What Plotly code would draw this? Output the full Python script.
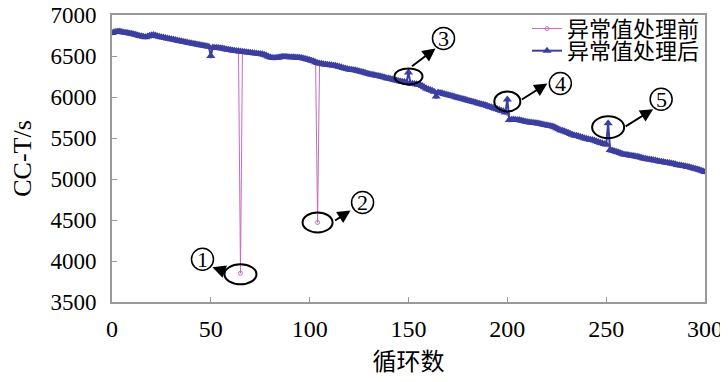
import plotly.graph_objects as go

cycles = list(range(0, 301))

after = [
    6780, 6790, 6795, 6800, 6798, 6792, 6788, 6785, 6780, 6775,
    6770, 6765, 6758, 6752, 6745, 6740, 6735, 6730, 6738, 6748,
    6752, 6755, 6750, 6742, 6735, 6730, 6725, 6720, 6714, 6710,
    6705, 6700, 6695, 6690, 6684, 6680, 6675, 6670, 6665, 6660,
    6655, 6650, 6645, 6640, 6636, 6632, 6628, 6622, 6618, 6612,
    6500, 6605, 6602, 6600, 6598, 6595, 6590, 6585, 6580, 6576,
    6572, 6568, 6565, 6560, 6557, 6555, 6552, 6550, 6546, 6542,
    6540, 6537, 6535, 6532, 6528, 6524, 6520, 6515, 6505, 6495,
    6485, 6478, 6475, 6478, 6482, 6486, 6490, 6492, 6490, 6488,
    6486, 6485, 6484, 6483, 6482, 6480, 6476, 6470, 6463, 6456,
    6450, 6442, 6435, 6425, 6415, 6410, 6405, 6400, 6396, 6392,
    6390, 6388, 6385, 6380, 6374, 6368, 6362, 6355, 6348, 6340,
    6336, 6333, 6330, 6325, 6320, 6314, 6308, 6302, 6295, 6288,
    6280, 6275, 6270, 6265, 6260, 6255, 6250, 6244, 6238, 6230,
    6225, 6220, 6214, 6208, 6200, 6195, 6190, 6186, 6182, 6176,
    6300, 6166, 6162, 6158, 6154, 6150, 6145, 6135, 6120, 6105,
    6095, 6085, 6075, 6065, 6005, 6055, 6050, 6045, 6038, 6030,
    6024, 6018, 6012, 6005, 5998, 5992, 5985, 5978, 5972, 5965,
    5958, 5952, 5946, 5940, 5932, 5925, 5918, 5912, 5905, 5898,
    5890, 5882, 5875, 5865, 5858, 5850, 5842, 5833, 5825, 5812,
    5970, 5720, 5722, 5725, 5722, 5720, 5718, 5712, 5706, 5700,
    5696, 5692, 5688, 5685, 5682, 5680, 5676, 5670, 5665, 5660,
    5655, 5650, 5645, 5640, 5630, 5620, 5608, 5596, 5588, 5580,
    5570, 5560, 5550, 5540, 5532, 5526, 5520, 5512, 5505, 5498,
    5492, 5486, 5480, 5475, 5468, 5460, 5450, 5442, 5435, 5428,
    5420, 5680, 5355, 5348, 5340, 5332, 5325, 5316, 5308, 5300,
    5295, 5292, 5288, 5284, 5280, 5275, 5270, 5264, 5258, 5250,
    5246, 5242, 5238, 5234, 5230, 5226, 5220, 5214, 5210, 5206,
    5202, 5198, 5194, 5190, 5186, 5180, 5172, 5168, 5164, 5160,
    5156, 5150, 5145, 5138, 5132, 5126, 5120, 5112, 5104, 5096,
    5085,
]

before = [
    6780, 6790, 6795, 6800, 6798, 6792, 6788, 6785, 6780, 6775,
    6770, 6765, 6758, 6752, 6745, 6740, 6735, 6730, 6738, 6748,
    6752, 6755, 6750, 6742, 6735, 6730, 6725, 6720, 6714, 6710,
    6705, 6700, 6695, 6690, 6684, 6680, 6675, 6670, 6665, 6660,
    6655, 6650, 6645, 6640, 6636, 6632, 6628, 6622, 6618, 6612,
    6500, 6605, 6602, 6600, 6598, 6595, 6590, 6585, 6580, 6576,
    6572, 6568, 6565, 6560, 6557, 3850, 6552, 6550, 6546, 6542,
    6540, 6537, 6535, 6532, 6528, 6524, 6520, 6515, 6505, 6495,
    6485, 6478, 6475, 6478, 6482, 6486, 6490, 6492, 6490, 6488,
    6486, 6485, 6484, 6483, 6482, 6480, 6476, 6470, 6463, 6456,
    6450, 6442, 6435, 6425, 4470, 6410, 6405, 6400, 6396, 6392,
    6390, 6388, 6385, 6380, 6374, 6368, 6362, 6355, 6348, 6340,
    6336, 6333, 6330, 6325, 6320, 6314, 6308, 6302, 6295, 6288,
    6280, 6275, 6270, 6265, 6260, 6255, 6250, 6244, 6238, 6230,
    6225, 6220, 6214, 6208, 6200, 6195, 6190, 6186, 6182, 6176,
    6170, 6166, 6162, 6158, 6154, 6150, 6145, 6135, 6120, 6105,
    6095, 6085, 6075, 6065, 6005, 6055, 6050, 6045, 6038, 6030,
    6024, 6018, 6012, 6005, 5998, 5992, 5985, 5978, 5972, 5965,
    5958, 5952, 5946, 5940, 5932, 5925, 5918, 5912, 5905, 5898,
    5890, 5882, 5875, 5865, 5858, 5850, 5842, 5833, 5825, 5812,
    5800, 5720, 5722, 5725, 5722, 5720, 5718, 5712, 5706, 5700,
    5696, 5692, 5688, 5685, 5682, 5680, 5676, 5670, 5665, 5660,
    5655, 5650, 5645, 5640, 5630, 5620, 5608, 5596, 5588, 5580,
    5570, 5560, 5550, 5540, 5532, 5526, 5520, 5512, 5505, 5498,
    5492, 5486, 5480, 5475, 5468, 5460, 5450, 5442, 5435, 5428,
    5420, 5415, 5355, 5348, 5340, 5332, 5325, 5316, 5308, 5300,
    5295, 5292, 5288, 5284, 5280, 5275, 5270, 5264, 5258, 5250,
    5246, 5242, 5238, 5234, 5230, 5226, 5220, 5214, 5210, 5206,
    5202, 5198, 5194, 5190, 5186, 5180, 5172, 5168, 5164, 5160,
    5156, 5150, 5145, 5138, 5132, 5126, 5120, 5112, 5104, 5096,
    5085,
]

series_names = ["异常值处理前", "异常值处理后"]
x_ticks = [0, 50, 100, 150, 200, 250, 300]
y_ticks = [3500, 4000, 4500, 5000, 5500, 6000, 6500, 7000]

# outlier callouts: (cycle index, series, label)
callouts = [
    (65, "before", "1"),
    (104, "before", "2"),
    (150, "after", "3"),
    (200, "after", "4"),
    (251, "after", "5"),
]

PINK = "#c46ac4"
BLUE = "#3b3fa0"

fig = go.Figure()
fig.add_trace(go.Scatter(
    x=cycles, y=before, name=series_names[0], mode="lines+markers",
    line=dict(color=PINK, width=1),
    marker=dict(symbol="circle-open", size=4, color=PINK, line=dict(width=1)),
    legend="legend",
))
fig.add_trace(go.Scatter(
    x=cycles, y=after, name=series_names[1], mode="lines+markers",
    line=dict(color=BLUE, width=2),
    marker=dict(symbol="triangle-up", size=8, color=BLUE),
    legend="legend2",
))

# pixel offsets for callout geometry (ellipse size/offset, number offset, arrow head, tail)
geom = {
    "1": dict(ell=(32, 20, 0, -1), num=(-38, 14), head=(-28, 6), tail=(14, 5)),
    "2": dict(ell=(30, 20, 0, 0), num=(45, 20), head=(33, 12), tail=(-17, 11)),
    "3": dict(ell=(28, 16, 0, -4), num=(35, 34), head=(27, 24), tail=(-25, 19)),
    "4": dict(ell=(26, 20, 0, -2), num=(53, 16), head=(40, 16), tail=(-27, 17)),
    "5": dict(ell=(32, 22, 0, -4), num=(53, 24), head=(45, 14), tail=(-29, 18)),
}
data = {"before": before, "after": after}
shapes = []
annotations = []
R = 11
for idx, ser, lab in callouts:
    xv = cycles[idx]
    yv = data[ser][idx]
    g = geom[lab]
    w, h, dx, dy = g["ell"]
    shapes.append(dict(
        type="circle", xref="x", yref="y", xsizemode="pixel", ysizemode="pixel",
        xanchor=xv, yanchor=yv,
        x0=dx - w / 2, x1=dx + w / 2, y0=dy - h / 2, y1=dy + h / 2,
        line=dict(color="black", width=2), fillcolor="rgba(0,0,0,0)",
    ))
    nx, ny = g["num"]
    shapes.append(dict(
        type="circle", xref="x", yref="y", xsizemode="pixel", ysizemode="pixel",
        xanchor=xv, yanchor=yv,
        x0=nx - R, x1=nx + R, y0=ny - R, y1=ny + R,
        line=dict(color="black", width=1.5), fillcolor="white",
    ))
    annotations.append(dict(
        x=xv, y=yv, xref="x", yref="y", text=lab, showarrow=False,
        xshift=nx, yshift=ny, yanchor="middle", xanchor="center",
        font=dict(family="Liberation Serif", size=22, color="black"),
    ))
    annotations.append(dict(
        x=xv, y=yv, xref="x", yref="y", text="", showarrow=True,
        xshift=g["head"][0], yshift=g["head"][1],
        ax=g["tail"][0], ay=g["tail"][1],
        arrowhead=2, arrowsize=1.3, arrowwidth=2, arrowcolor="black",
    ))

legend_common = dict(
    xanchor="right", yanchor="middle",
    bgcolor="rgba(0,0,0,0)", borderwidth=0,
    font=dict(family="Noto Sans CJK SC", size=22, color="black"),
    itemwidth=30,
)

# page body has an 8px margin, so the figure is sized/offset to land the
# plot area at the same window pixels as the reference
fig.update_layout(
    width=720, height=374,
    margin=dict(l=104, r=23, t=7, b=80, autoexpand=False),
    paper_bgcolor="white", plot_bgcolor="white",
    showlegend=True,
    legend=dict(x=1.0, y=0.952, **legend_common),
    legend2=dict(x=1.0, y=0.875, **legend_common),
    shapes=shapes,
    annotations=annotations,
    font=dict(family="Liberation Serif", color="black"),
)
fig.update_xaxes(
    range=[0, 300], tickvals=x_ticks, ticktext=[str(v) for v in x_ticks],
    ticks="inside", ticklen=5, tickcolor="#999999", tickwidth=1,
    showline=True, linecolor="#999999", linewidth=2, mirror=True,
    showgrid=False, zeroline=False, ticklabelstandoff=4,
    ticklabeloverflow="allow",
    tickfont=dict(family="Liberation Serif", size=24, color="black"),
    title=dict(text="循环数", font=dict(family="Noto Sans CJK SC", size=24, color="black"), standoff=6),
)
fig.update_yaxes(
    range=[3500, 7000], tickvals=y_ticks, ticktext=[str(v) for v in y_ticks],
    ticks="inside", ticklen=5, tickcolor="#999999", tickwidth=1,
    showline=True, linecolor="#999999", linewidth=2, mirror=True,
    showgrid=False, zeroline=False, ticklabelstandoff=9,
    ticklabeloverflow="allow",
    tickfont=dict(family="Liberation Serif", size=23, color="black"),
    title=dict(text="CC-T/s", font=dict(family="Liberation Serif", size=26, color="black"), standoff=20),
)

fig.write_html("out.html")
